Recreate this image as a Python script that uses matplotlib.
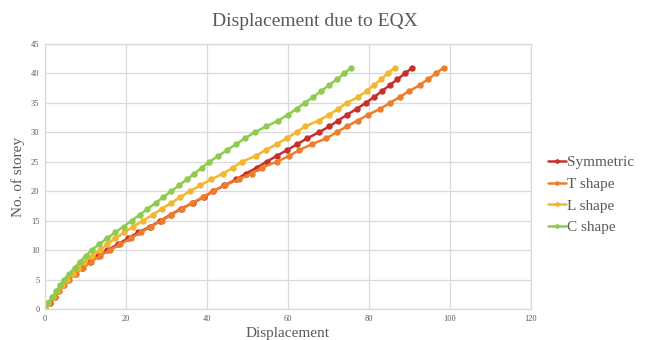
import matplotlib
matplotlib.use("Agg")
import matplotlib.pyplot as plt

# storey numbers 0..41 and displacement per storey for each model
storeys = list(range(42))

symmetric = [0, 1.2, 2.5, 3.2, 4.5, 5.8, 7.5, 9.2, 11.0, 13.0, 15.4, 18.0, 20.5, 23.0,
             26.0, 28.5, 31.0, 33.5, 36.5, 39.2, 41.6, 44.3, 47.2, 49.6, 52.3, 54.7,
             57.2, 59.8, 62.3, 64.8, 67.6, 70.2, 72.4, 74.6, 77.0, 79.2, 81.3, 83.2,
             85.1, 87.0, 88.9, 90.7]
t_shape = [0, 1.0, 2.4, 3.4, 4.6, 6.0, 7.6, 9.4, 11.3, 13.5, 16.0, 18.6, 21.2, 23.6,
           26.2, 28.8, 31.2, 33.8, 36.3, 39.0, 41.4, 44.4, 47.8, 51.0, 53.5, 57.2,
           60.3, 62.8, 66.0, 69.5, 72.0, 74.5, 77.2, 79.8, 82.8, 85.2, 87.6, 89.9,
           92.5, 94.5, 96.6, 98.4]
l_shape = [0, 0.8, 2.0, 3.0, 4.2, 5.4, 6.8, 8.2, 9.6, 11.5, 13.5, 15.4, 17.4, 19.6,
           21.8, 24.2, 26.6, 28.8, 31.2, 33.4, 35.8, 38.3, 41.0, 44.0, 46.4, 48.6,
           52.0, 54.5, 57.2, 59.7, 62.1, 64.2, 67.6, 70.2, 72.4, 74.5, 77.3, 79.4,
           81.2, 83.0, 84.6, 86.4]
c_shape = [0, 0.6, 1.8, 2.7, 3.8, 4.7, 6.0, 7.3, 8.6, 10.0, 11.5, 13.4, 15.3, 17.3,
           19.4, 21.4, 23.4, 25.3, 27.3, 29.2, 31.2, 33.1, 35.0, 36.9, 38.7, 40.6,
           42.8, 45.0, 47.2, 49.4, 51.8, 54.6, 57.6, 60.0, 62.1, 64.2, 66.2, 68.2,
           70.1, 72.1, 73.9, 75.6]

series_names = ["Symmetric", "T shape", "L shape", "C shape"]
series_colors = ["#C6302A", "#EE7D2A", "#F2B630", "#8FCB4F"]

x_ticks = [0, 20, 40, 60, 80, 100, 120]
y_ticks = [0, 5, 10, 15, 20, 25, 30, 35, 40, 45]

grey = "#595959"
serif = "Liberation Serif"

fig = plt.figure(figsize=(6.46, 3.40), dpi=100)
ax = fig.add_axes([45 / 646, 1 - 309 / 340, 486 / 646, 265 / 340])

for vals, name, col in zip([symmetric, t_shape, l_shape, c_shape], series_names, series_colors):
    ax.plot(vals, storeys, color=col, lw=1.8, marker="o", ms=3.6, label=name,
            solid_capstyle="round")

ax.set_xlim(0, 120)
ax.set_ylim(0, 45)
ax.set_xticks(x_ticks)
ax.set_yticks(y_ticks)
ax.grid(True, color="#d9d9d9", lw=0.9)
ax.set_axisbelow(True)
for s in ax.spines.values():
    s.set_color("#d9d9d9")
    s.set_linewidth(0.9)
ax.tick_params(length=0, labelsize=6, labelcolor=grey, pad=4)
for lab in ax.get_xticklabels() + ax.get_yticklabels():
    lab.set_family(serif)

fig.text(315 / 646, 1 - 21 / 340, "Displacement due to EQX", ha="center", va="center",
         fontsize=14, color=grey, family=serif)
fig.text(288 / 646, 1 - 333 / 340, "Displacement", ha="center", va="center",
         fontsize=11, color=grey, family=serif)
fig.text(18 / 646, 1 - 177 / 340, "No. of storey", ha="center", va="center",
         rotation=90, fontsize=11, color=grey, family=serif)

leg = fig.legend(loc="center left", bbox_to_anchor=(542 / 646, 1 - 195 / 340),
                 frameon=False, prop={"family": serif, "size": 11},
                 handlelength=1.2, handletextpad=0.05, labelspacing=0.52,
                 borderaxespad=0, markerscale=0.65)
for t in leg.get_texts():
    t.set_color(grey)

fig.savefig("out.png", dpi=100)
